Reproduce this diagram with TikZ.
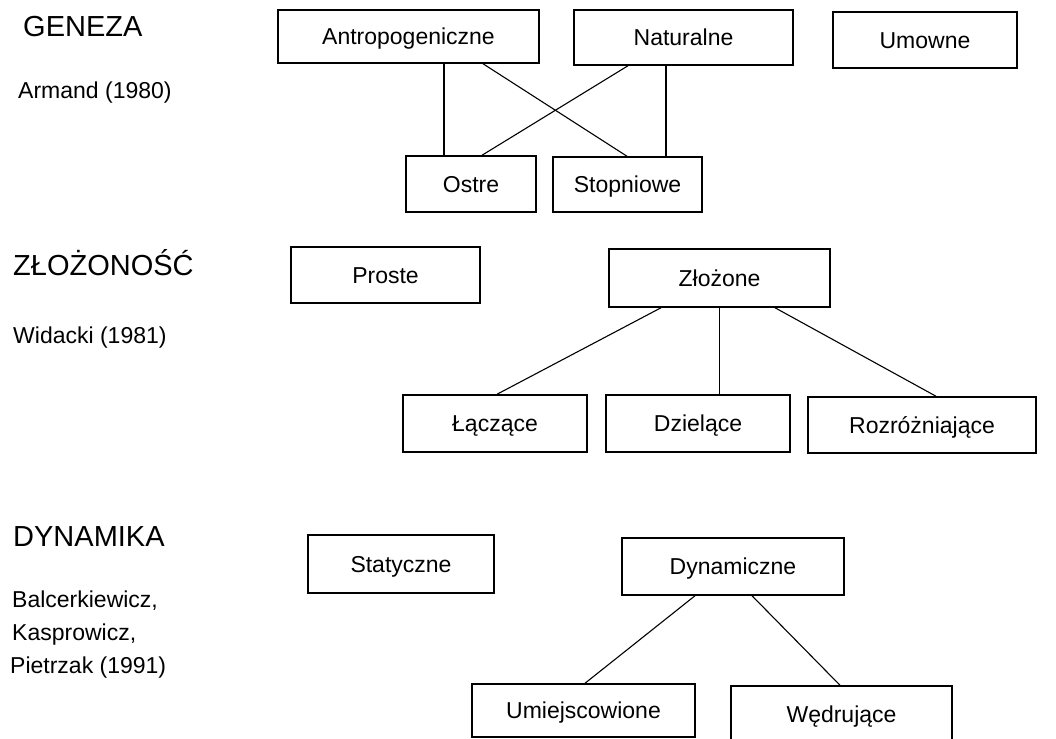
\documentclass[tikz,border=0pt]{standalone}
\usepackage{fontspec}
\setmainfont{Liberation Sans}
\begin{document}
\begin{tikzpicture}[x=1pt,y=-1pt,
  box/.style={draw, line width=1.5pt, inner sep=0pt, text height=16.5pt, text depth=0pt, font=\fontsize{23}{27}\selectfont},
  link/.style={line width=1.1pt},
  head/.style={font=\fontsize{29}{34}\selectfont, inner sep=0pt, anchor=base west},
  sub/.style={font=\fontsize{23}{27}\selectfont, inner sep=0pt, anchor=base west}]
\clip (0,0) rectangle (1056,738);
\fill[white] (0,0) rectangle (1056,738);

% left labels
\node[head] (gen) at (23,37) {GENEZA};
\node[sub] (arm) at (18,98.5) {Armand (1980)};
\node[head] (zlz) at (13,275) {ZŁOŻONOŚĆ};
\node[sub] (wid) at (13,343) {Widacki (1981)};
\node[head] (dyk) at (13,546) {DYNAMIKA};
\node[sub] (bal) at (12,607) {Balcerkiewicz,};
\node[sub] (kas) at (12,640) {Kasprowicz,};
\node[sub] (pie) at (10,673) {Pietrzak (1991)};

% GENEZA
\node[box, minimum width=261pt, minimum height=53pt] (ant) at (408.5,36.5) {Antropogeniczne};
\node[box, minimum width=219pt, minimum height=55pt] (nat) at (683.5,37.5) {Naturalne};
\node[box, minimum width=184pt, minimum height=56pt] (umo) at (925,40) {Umowne};
\node[box, minimum width=130pt, minimum height=56pt] (ost) at (471,184) {Ostre};
\node[box, minimum width=149pt, minimum height=55pt] (sto) at (627.5,184.5) {Stopniowe};
\draw[link] ([xshift=35.5pt]ant.south) -- ([xshift=-27pt]ost.north);
\draw[link] ([xshift=74.5pt]ant.south) -- ([xshift=-0.5pt]sto.north);
\draw[link] ([xshift=-55.5pt]nat.south) -- ([xshift=11pt]ost.north);
\draw[link] ([xshift=-17.5pt]nat.south) -- ([xshift=38.5pt]sto.north);

% ZLOZONOSC
\node[box, minimum width=189pt, minimum height=56pt] (pro) at (385.5,275) {Proste};
\node[box, minimum width=221pt, minimum height=58pt] (zlo) at (719.5,278) {Złożone};
\node[box, minimum width=184pt, minimum height=57pt] (lac) at (495,423.5) {Łączące};
\node[box, minimum width=184pt, minimum height=57pt] (dzi) at (698,423.5) {Dzielące};
\node[box, minimum width=228pt, minimum height=56pt] (roz) at (922,425) {Rozróżniające};
\draw[link] ([xshift=-58.5pt]zlo.south) -- ([xshift=2pt]lac.north);
\draw[link] (zlo.south) -- (zlo.south |- dzi.north);
\draw[link] ([xshift=55.5pt]zlo.south) -- ([xshift=14pt]roz.north);

% DYNAMIKA
\node[box, minimum width=186pt, minimum height=58pt] (sta) at (401,564) {Statyczne};
\node[box, minimum width=222pt, minimum height=57pt] (dyn) at (733,566.5) {Dynamiczne};
\node[box, minimum width=223pt, minimum height=53pt] (umi) at (583.5,710.5) {Umiejscowione};
\node[box, minimum width=221pt, minimum height=56pt] (wed) at (841.5,714) {Wędrujące};
\draw[link] ([xshift=-38pt]dyn.south) -- ([xshift=1.5pt]umi.north);
\draw[link] ([xshift=19pt]dyn.south) -- ([xshift=-1.5pt]wed.north);
\end{tikzpicture}
\end{document}
